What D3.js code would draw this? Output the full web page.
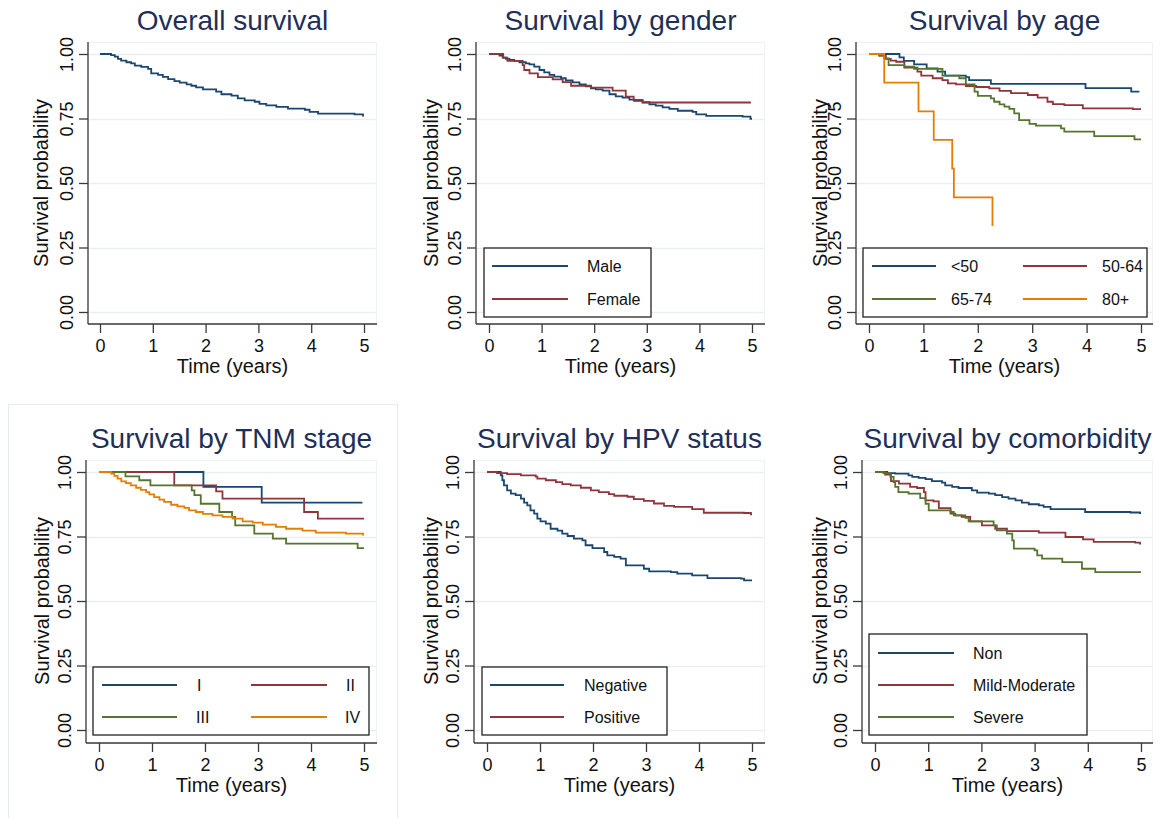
<!DOCTYPE html>
<html>
<head>
<meta charset="utf-8">
<script src="https://cdn.jsdelivr.net/npm/d3@7"></script>
<style>
  body { margin: 0; background: #fff; }
  svg { display: block; font-family: "Liberation Sans", Arial, sans-serif; }
</style>
</head>
<body>
<svg id="chart" width="1161" height="818"></svg>
<script>
// tick values
var timeTicks = [0, 1, 2, 3, 4, 5];
var probTicks = [0, 0.25, 0.5, 0.75, 1];
var probLabels = ["0.00", "0.25", "0.50", "0.75", "1.00"];

// Kaplan-Meier step points [time, survival]
var overallAll = [[0,1],[0.21,0.996],[0.28,0.990],[0.34,0.981],[0.40,0.974],[0.50,0.968],[0.59,0.964],[0.66,0.955],[0.78,0.950],[0.91,0.942],[0.97,0.925],[1.10,0.919],[1.19,0.911],[1.29,0.903],[1.41,0.895],[1.51,0.889],[1.64,0.882],[1.73,0.877],[1.82,0.871],[1.95,0.863],[2.20,0.854],[2.30,0.844],[2.49,0.839],[2.61,0.828],[2.74,0.820],[2.93,0.815],[3.02,0.807],[3.15,0.801],[3.34,0.795],[3.56,0.788],[3.88,0.784],[3.97,0.776],[4.13,0.769],[4.82,0.766],[4.98,0.761],[5.0,0.761]];

var genderMale = [[0,1],[0.20,0.994],[0.26,0.986],[0.32,0.981],[0.39,0.977],[0.48,0.973],[0.58,0.968],[0.70,0.964],[0.77,0.960],[0.86,0.951],[0.96,0.938],[1.05,0.929],[1.15,0.919],[1.24,0.912],[1.37,0.906],[1.46,0.898],[1.59,0.890],[1.72,0.882],[1.84,0.875],[1.94,0.867],[2.03,0.863],[2.16,0.858],[2.29,0.844],[2.41,0.836],[2.54,0.831],[2.67,0.823],[2.76,0.818],[2.92,0.813],[3.05,0.805],[3.17,0.800],[3.30,0.793],[3.43,0.787],[3.59,0.780],[3.87,0.776],[3.94,0.766],[4.13,0.760],[4.82,0.757],[4.97,0.749],[5.0,0.749]];
var genderFemale = [[0,1],[0.27,0.986],[0.35,0.973],[0.64,0.957],[0.67,0.938],[0.77,0.925],[0.93,0.910],[1.21,0.902],[1.40,0.891],[1.56,0.877],[1.94,0.870],[2.35,0.858],[2.60,0.835],[2.75,0.822],[2.92,0.812],[4.98,0.812]];

var ageUnder50 = [[0,1],[0.56,0.987],[0.64,0.973],[0.83,0.960],[1.06,0.944],[1.26,0.932],[1.40,0.916],[1.78,0.910],[1.84,0.899],[2.24,0.884],[3.98,0.868],[4.82,0.854],[4.97,0.854]];
var age50to64 = [[0,1],[0.19,0.994],[0.31,0.981],[0.40,0.974],[0.50,0.970],[0.65,0.947],[0.89,0.932],[0.96,0.916],[1.17,0.906],[1.35,0.899],[1.45,0.886],[1.60,0.882],[1.78,0.876],[1.97,0.872],[2.21,0.867],[2.40,0.857],[2.61,0.848],[2.92,0.841],[3.10,0.831],[3.28,0.815],[3.38,0.806],[3.59,0.802],[3.93,0.789],[4.85,0.786],[5.0,0.786]];
var age65to74 = [[0,1],[0.19,0.994],[0.28,0.983],[0.36,0.957],[0.65,0.951],[0.83,0.942],[1.35,0.916],[1.66,0.906],[1.78,0.882],[1.94,0.854],[2.00,0.838],[2.24,0.828],[2.30,0.815],[2.40,0.805],[2.49,0.796],[2.58,0.787],[2.67,0.770],[2.76,0.744],[2.95,0.729],[3.07,0.722],[3.53,0.712],[3.59,0.699],[4.14,0.682],[4.88,0.669],[5.0,0.669]];
var age80plus = [[0,1],[0.28,0.889],[0.91,0.778],[1.19,0.667],[1.53,0.556],[1.56,0.444],[2.27,0.333]];

var stageI = [[0,1],[1.97,0.942],[3.07,0.881],[4.97,0.881]];
var stageII = [[0,1],[1.42,0.948],[2.21,0.925],[2.33,0.897],[3.87,0.845],[4.13,0.819],[5.0,0.819]];
var stageIII = [[0,1],[0.50,0.983],[0.76,0.968],[0.97,0.948],[1.75,0.929],[1.80,0.910],[1.92,0.877],[2.27,0.845],[2.51,0.826],[2.57,0.793],[2.93,0.761],[3.28,0.742],[3.53,0.722],[4.88,0.705],[5.0,0.705]];
var stageIV = [[0,1],[0.23,0.994],[0.29,0.985],[0.35,0.974],[0.42,0.964],[0.51,0.957],[0.60,0.948],[0.70,0.939],[0.79,0.931],[0.89,0.922],[0.95,0.913],[1.04,0.903],[1.14,0.893],[1.23,0.884],[1.36,0.873],[1.48,0.867],[1.61,0.861],[1.70,0.851],[1.83,0.845],[1.96,0.838],[2.14,0.832],[2.33,0.826],[2.52,0.819],[2.71,0.809],[2.90,0.804],[3.09,0.796],[3.34,0.787],[3.53,0.780],[3.84,0.773],[4.09,0.765],[4.66,0.761],[4.98,0.757],[5.0,0.757]];

var hpvNegative = [[0,1],[0.26,0.987],[0.29,0.968],[0.32,0.948],[0.38,0.929],[0.45,0.916],[0.54,0.910],[0.64,0.897],[0.70,0.881],[0.76,0.871],[0.82,0.851],[0.89,0.839],[0.95,0.819],[1.01,0.809],[1.11,0.800],[1.20,0.780],[1.33,0.773],[1.42,0.761],[1.52,0.752],[1.64,0.742],[1.80,0.735],[1.86,0.716],[1.99,0.705],[2.21,0.690],[2.27,0.677],[2.40,0.671],[2.52,0.664],[2.62,0.638],[2.96,0.625],[3.06,0.615],[3.47,0.612],[3.59,0.606],[3.87,0.599],[4.16,0.589],[4.79,0.587],[4.85,0.580],[5.0,0.580]];
var hpvPositive = [[0,1],[0.19,0.996],[0.38,0.992],[0.64,0.987],[0.92,0.982],[0.95,0.974],[1.11,0.968],[1.30,0.961],[1.42,0.953],[1.58,0.948],[1.77,0.939],[1.96,0.929],[2.11,0.922],[2.30,0.914],[2.40,0.908],[2.65,0.904],[2.77,0.895],[2.96,0.888],[3.15,0.878],[3.34,0.869],[3.53,0.865],[3.87,0.856],[4.09,0.842],[4.85,0.841],[4.98,0.836],[5.0,0.836]];

var comorbNon = [[0,1],[0.23,0.996],[0.38,0.994],[0.63,0.987],[0.70,0.981],[0.82,0.977],[0.95,0.972],[1.07,0.965],[1.26,0.959],[1.32,0.948],[1.45,0.942],[1.57,0.938],[1.82,0.929],[1.92,0.920],[2.14,0.916],[2.26,0.910],[2.39,0.903],[2.51,0.897],[2.64,0.890],[2.76,0.881],[2.89,0.875],[3.08,0.871],[3.17,0.865],[3.30,0.856],[3.95,0.845],[4.80,0.843],[4.98,0.841],[5.0,0.841]];
var comorbMild = [[0,1],[0.19,0.990],[0.30,0.965],[0.45,0.955],[0.66,0.942],[0.79,0.938],[0.92,0.922],[0.95,0.890],[1.10,0.886],[1.20,0.860],[1.42,0.839],[1.51,0.832],[1.63,0.826],[1.79,0.809],[2.01,0.793],[2.26,0.780],[2.48,0.771],[3.08,0.765],[3.58,0.748],[3.91,0.739],[4.11,0.729],[4.89,0.726],[4.98,0.722],[5.0,0.722]];
var comorbSevere = [[0,1],[0.16,0.996],[0.29,0.981],[0.35,0.961],[0.38,0.942],[0.44,0.922],[0.63,0.916],[0.85,0.899],[0.95,0.877],[1.01,0.851],[1.42,0.845],[1.48,0.832],[1.70,0.822],[1.76,0.809],[2.23,0.793],[2.29,0.774],[2.48,0.761],[2.58,0.735],[2.61,0.703],[3.00,0.696],[3.05,0.677],[3.14,0.664],[3.52,0.651],[3.89,0.625],[4.14,0.612],[5.0,0.612]];

var colors = ["#1a476f", "#90353b", "#55752f", "#e37e00"];
var titleColor = "#1f2f57";
var gridColor = "#e8eff1";

var panels = [
  {title: "Overall survival", left: 88, right: 377, top: 42, bottom: 324, x0: 100, x5: 364, y1: 54, y0: 312, ytOff: 40,
   series: [{name: "All", data: overallAll}], legend: null},
  {title: "Survival by gender", left: 476, right: 765, top: 42, bottom: 324, x0: 489, x5: 752, y1: 54, y0: 312, ytOff: 38.5,
   series: [{name: "Male", data: genderMale}, {name: "Female", data: genderFemale}],
   legend: {x: 484, y: 248, w: 167, h: 69, items: [[492, 568, 587, 266], [492, 568, 587, 299]]}},
  {title: "Survival by age", left: 856, right: 1153, top: 42, bottom: 324, x0: 869, x5: 1141, y1: 54, y0: 312, ytOff: 29.5,
   series: [{name: "<50", data: ageUnder50}, {name: "50-64", data: age50to64}, {name: "65-74", data: age65to74}, {name: "80+", data: age80plus}],
   legend: {x: 863, y: 248, w: 284, h: 69, items: [[872, 936, 951, 266], [1023, 1087, 1102, 266], [872, 936, 951, 299], [1023, 1087, 1102, 299]]}},
  {title: "Survival by TNM stage", left: 86, right: 377, top: 460, bottom: 743, x0: 99, x5: 364, y1: 472, y0: 730, ytOff: 37,
   series: [{name: "I", data: stageI}, {name: "II", data: stageII}, {name: "III", data: stageIII}, {name: "IV", data: stageIV}],
   legend: {x: 93, y: 667, w: 276, h: 68, items: [[102, 177, 197, 685], [251, 327, 346, 685], [102, 177, 196, 717], [251, 327, 345, 717]]}},
  {title: "Survival by HPV status", left: 474, right: 765, top: 460, bottom: 743, x0: 487, x5: 752, y1: 472, y0: 730, ytOff: 36.5,
   series: [{name: "Negative", data: hpvNegative}, {name: "Positive", data: hpvPositive}],
   legend: {x: 482, y: 667, w: 185, h: 68, items: [[490, 564, 584, 685], [490, 564, 584, 717]]}},
  {title: "Survival by comorbidity", left: 862, right: 1153, top: 460, bottom: 743, x0: 875, x5: 1141, y1: 472, y0: 730, ytOff: 35.5,
   series: [{name: "Non", data: comorbNon}, {name: "Mild-Moderate", data: comorbMild}, {name: "Severe", data: comorbSevere}],
   legend: {x: 869, y: 634, w: 218, h: 101, items: [[878, 954, 973, 653], [878, 954, 973, 685], [878, 954, 973, 717]]}}
];

var svg = d3.select("#chart");

// faint frame round the TNM panel
svg.append("rect").attr("x", 8.5).attr("y", 404.5).attr("width", 389).attr("height", 420)
  .attr("fill", "none").attr("stroke", "#e3ecef").attr("stroke-width", 1);

panels.forEach(function(p){
  var g = svg.append("g");
  var x = d3.scaleLinear().domain([0, 5]).range([p.x0, p.x5]);
  var y = d3.scaleLinear().domain([0, 1]).range([p.y0, p.y1]);

  // plot region outline (light)
  g.append("rect").attr("x", p.left).attr("y", p.top + 0.5)
    .attr("width", p.right - p.left - 0.5).attr("height", p.bottom - p.top)
    .attr("fill", "none").attr("stroke", "#edf2f4").attr("stroke-width", 1);

  // grid lines
  g.selectAll(".grid").data(probTicks).enter().append("line")
    .attr("x1", p.left).attr("x2", p.right)
    .attr("y1", function(d){ return Math.round(y(d)) + 0.5; })
    .attr("y2", function(d){ return Math.round(y(d)) + 0.5; })
    .attr("stroke", gridColor).attr("stroke-width", 1.3);

  // axes
  var xAxis = d3.axisBottom(x).tickValues(timeTicks).tickSize(9).tickPadding(6).tickFormat(d3.format("d"));
  var xg = g.append("g").attr("transform", "translate(0," + p.bottom + ")").call(xAxis);
  xg.select(".domain").attr("d", "M" + p.left + ",0H" + p.right);
  var yAxis = d3.axisLeft(y).tickValues(probTicks).tickSize(9).tickFormat(function(d, i){ return probLabels[i]; });
  var yg = g.append("g").attr("transform", "translate(" + p.left + ",0)").call(yAxis);
  yg.select(".domain").attr("d", "M0," + p.top + "V" + p.bottom);
  yg.selectAll(".tick text")
    .attr("x", null).attr("dy", null)
    .attr("text-anchor", "middle")
    .attr("transform", "translate(-15.5,0) rotate(-90)");
  [xg, yg].forEach(function(a){
    a.select(".domain").attr("stroke", "#3a3a3a").attr("stroke-width", 1.3);
    a.selectAll(".tick line").attr("stroke", "#3a3a3a").attr("stroke-width", 1.3);
    a.selectAll(".tick text").attr("font-size", 18).attr("fill", "#111").attr("font-family", "Liberation Sans, Arial, sans-serif");
  });

  // axis titles
  g.append("text").attr("x", (p.left + p.right) / 2).attr("y", p.bottom + 49)
    .attr("text-anchor", "middle").attr("font-size", 20).attr("fill", "#111").text("Time (years)");
  g.append("text")
    .attr("transform", "translate(" + (p.left - p.ytOff) + "," + y(0.5) + ") rotate(-90)")
    .attr("text-anchor", "middle").attr("font-size", 20).attr("fill", "#111").text("Survival probability");

  // title
  g.append("text").attr("x", (p.left + p.right) / 2).attr("y", p.top - 12)
    .attr("text-anchor", "middle").attr("font-size", 28).attr("fill", titleColor).text(p.title);

  // curves
  var line = d3.line().curve(d3.curveStepAfter)
    .x(function(d){ return x(d[0]); })
    .y(function(d){ return y(d[1]); });
  g.selectAll(".km").data(p.series).enter().append("path")
    .attr("d", function(s){ return line(s.data); })
    .attr("fill", "none")
    .attr("stroke", function(s, i){ return colors[i]; })
    .attr("stroke-width", 1.8);

  // legend
  if (p.legend) {
    var L = p.legend;
    g.append("rect").attr("x", L.x).attr("y", L.y).attr("width", L.w).attr("height", L.h)
      .attr("fill", "#fff").attr("stroke", "#222").attr("stroke-width", 1.3);
    p.series.forEach(function(s, i){
      var it = L.items[i];
      g.append("line").attr("x1", it[0]).attr("x2", it[1]).attr("y1", it[3]).attr("y2", it[3])
        .attr("stroke", colors[i]).attr("stroke-width", 1.8);
      g.append("text").attr("x", it[2]).attr("y", it[3]).attr("dy", "0.35em")
        .attr("font-size", 16).attr("fill", "#111").text(s.name);
    });
  }
});
</script>
</body>
</html>
